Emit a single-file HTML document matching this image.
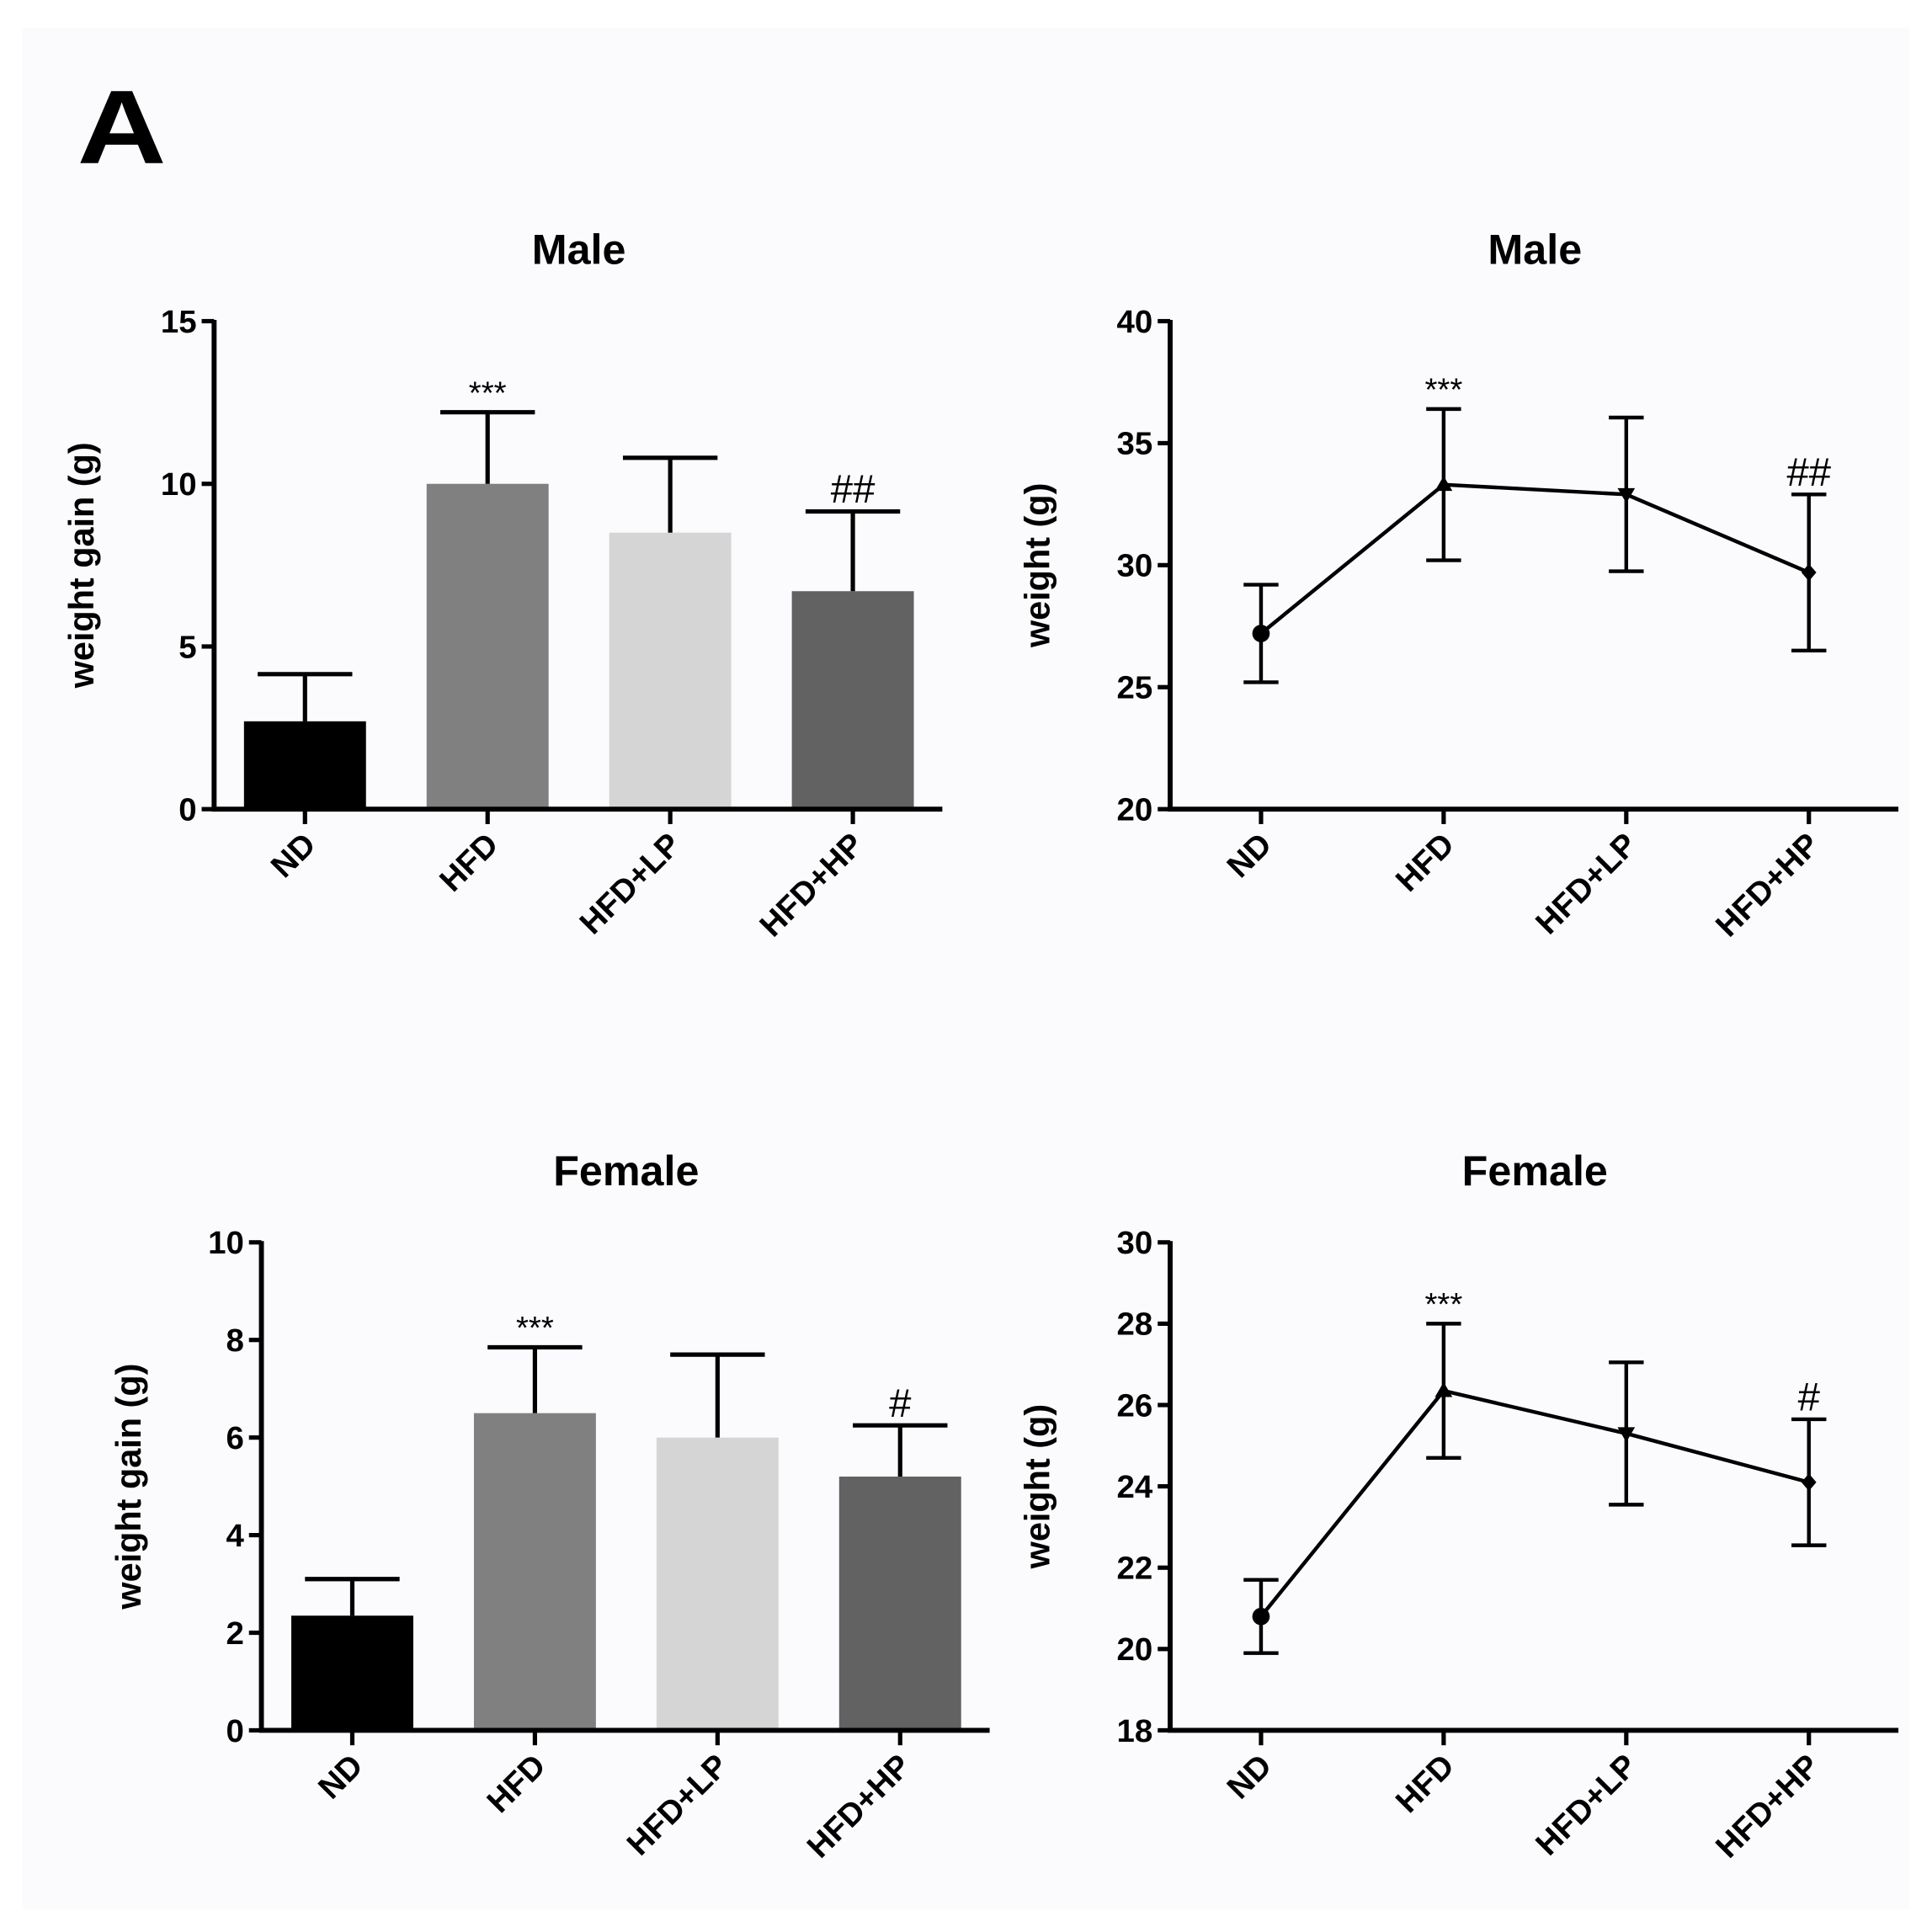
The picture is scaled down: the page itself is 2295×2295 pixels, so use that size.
<!DOCTYPE html>
<html><head><meta charset="utf-8"><style>
html,body{margin:0;padding:0;background:#fff;}
svg{display:block;font-family:"Liberation Sans",Arial,sans-serif;}
</style></head><body>
<svg id="fig" width="2295" height="2295" viewBox="0 0 1552 1552" xmlns="http://www.w3.org/2000/svg">
<rect x="0" y="0" width="1552" height="1552" fill="#ffffff"/>
<rect x="18" y="22" width="1516" height="1512" fill="#fbfbfd"/>
<text x="62" y="131" font-size="84" font-weight="bold" transform="translate(62,131) scale(1.18,1) translate(-62,-131)">A</text>
</svg>
<script>
const categories = ["ND","HFD","HFD+LP","HFD+HP"];
const maleGain = [2.7, 10.0, 8.5, 6.7];
const maleGainErr = [1.45, 2.2, 2.3, 2.45];
const maleGainMarks = ["", "***", "", "##"];
const maleWeight = [27.2, 33.3, 32.9, 29.7];
const maleWeightErr = [2.0, 3.1, 3.15, 3.2];
const maleWeightMarks = ["", "***", "", "##"];
const femaleGain = [2.35, 6.5, 6.0, 5.2];
const femaleGainErr = [0.75, 1.35, 1.7, 1.05];
const femaleGainMarks = ["", "***", "", "#"];
const femaleWeight = [20.8, 26.35, 25.3, 24.1];
const femaleWeightErr = [0.9, 1.65, 1.75, 1.55];
const femaleWeightMarks = ["", "***", "", "#"];
const barColors = ["#000000","#808080","#d5d5d5","#626262"];
const ticksMaleGain = [0,5,10,15];
const ticksMaleWeight = [20,25,30,35,40];
const ticksFemaleGain = [0,2,4,6,8,10];
const ticksFemaleWeight = [18,20,22,24,26,28,30];

const svg = document.getElementById('fig');
const NS = "http://www.w3.org/2000/svg";
function mk(tag, attrs, parent){
  const e = document.createElementNS(NS, tag);
  for (const k in attrs) e.setAttribute(k, attrs[k]);
  (parent||svg).appendChild(e);
  return e;
}

function panel(o){
  const g = mk('g', {});
  
  
  const y = v => o.y0 - (v - o.vmin) / (o.vmax - o.vmin) * (o.y0 - o.y1);
  const x = i => o.xStart + i * o.step;
  const t = mk('text', {x:o.titleX, y:o.y1 - 46, 'font-size':34, 'font-weight':'bold', 'text-anchor':'middle'}, g);
  t.textContent = o.title;
  
  
  const yl = mk('text', {x:0, y:0, 'font-size':28, 'font-weight':'bold', 'text-anchor':'middle', transform:`translate(${o.ax-97},${(o.y0+o.y1)/2}) rotate(-90)`}, g);
  yl.textContent = o.ylabel;
  
  
  if (o.bars) {
    o.values.forEach((v, i) => {
      const r = mk('rect', {x:x(i)-49, y:y(v), width:98, height:o.y0-y(v), fill:barColors[i]}, g);
      
      
      const e = mk('path', {d:`M${x(i)},${y(v)} V${y(v+o.err[i])} M${x(i)-38},${y(v+o.err[i])} H${x(i)+38}`, stroke:'#000', 'stroke-width':3.5, fill:'none'}, g);
      
      
    });
  } else {
    const d = o.values.map((v,i)=>(i?'L':'M')+x(i)+','+y(v)).join(' ');
    const l = mk('path', {d:d, stroke:'#000', 'stroke-width':3, fill:'none'}, g);
    
    
    o.values.forEach((v, i) => {
      const e = mk('path', {d:`M${x(i)},${y(v-o.err[i])} V${y(v+o.err[i])} M${x(i)-14},${y(v+o.err[i])} H${x(i)+14} M${x(i)-14},${y(v-o.err[i])} H${x(i)+14}`, stroke:'#000', 'stroke-width':3, fill:'none'}, g);
      
      
      const cx = x(i), cy = y(v); let m;
      if (i===0) m = mk('circle', {cx:cx, cy:cy, r:7, fill:'#000'}, g);
      else if (i===1) m = mk('path', {d:`M${cx},${cy-7} L${cx+7},${cy+5} L${cx-7},${cy+5}Z`, fill:'#000'}, g);
      else if (i===2) m = mk('path', {d:`M${cx},${cy+7} L${cx+7},${cy-5} L${cx-7},${cy-5}Z`, fill:'#000'}, g);
      else m = mk('path', {d:`M${cx},${cy-7} L${cx+6},${cy} L${cx},${cy+7} L${cx-6},${cy}Z`, fill:'#000'}, g);
      
      
    });
  }
  o.values.forEach((v, i) => {
    if (!o.marks[i]) return;
    const s = mk('text', {x:x(i), y:y(v+o.err[i]) - 7, 'font-size': o.marks[i]==='***'?26:32, 'text-anchor':'middle'}, g);
    s.textContent = o.marks[i];
    
    
  });
  const ax = mk('path', {d:`M${o.ax},${o.y1-1} V${o.y0} H${o.axEnd}`, stroke:'#000', 'stroke-width':4, fill:'none'}, g);
  
  
  o.ticks.forEach(tv => {
    const tk = mk('path', {d:`M${o.ax-10},${y(tv)} H${o.ax}`, stroke:'#000', 'stroke-width':3.5}, g);
    
    
    const tl = mk('text', {x:o.ax-14, y:y(tv)+9, 'font-size':26, 'font-weight':'bold', 'text-anchor':'end'}, g);
    tl.textContent = tv;
    
    
  });
  categories.forEach((c, i) => {
    const tk = mk('path', {d:`M${x(i)},${o.y0} V${o.y0+12}`, stroke:'#000', 'stroke-width':3.5}, g);
    
    
    const tl = mk('text', {x:0, y:0, 'font-size':26, 'font-weight':'bold', 'text-anchor':'end', transform:`translate(${x(i)+10},${o.y0+30}) rotate(-45)`}, g);
    tl.textContent = c;
    
    
  });
}

panel({name:'male-weight-gain-chart', title:'Male', titleX:465, ylabel:'weight gain (g)', bars:true,
  ax:172, axEnd:757, y0:650, y1:258, vmin:0, vmax:15, xStart:245, step:146.7,
  values:maleGain, err:maleGainErr, marks:maleGainMarks, ticks:ticksMaleGain});
panel({name:'male-weight-chart', title:'Male', titleX:1233, ylabel:'weight (g)', bars:false,
  ax:940, axEnd:1525, y0:650, y1:258, vmin:20, vmax:40, xStart:1013, step:146.7,
  values:maleWeight, err:maleWeightErr, marks:maleWeightMarks, ticks:ticksMaleWeight});
panel({name:'female-weight-gain-chart', title:'Female', titleX:503, ylabel:'weight gain (g)', bars:true,
  ax:210, axEnd:795, y0:1390, y1:998, vmin:0, vmax:10, xStart:283, step:146.7,
  values:femaleGain, err:femaleGainErr, marks:femaleGainMarks, ticks:ticksFemaleGain});
panel({name:'female-weight-chart', title:'Female', titleX:1233, ylabel:'weight (g)', bars:false,
  ax:940, axEnd:1525, y0:1390, y1:998, vmin:18, vmax:30, xStart:1013, step:146.7,
  values:femaleWeight, err:femaleWeightErr, marks:femaleWeightMarks, ticks:ticksFemaleWeight});
</script>
</body></html>
